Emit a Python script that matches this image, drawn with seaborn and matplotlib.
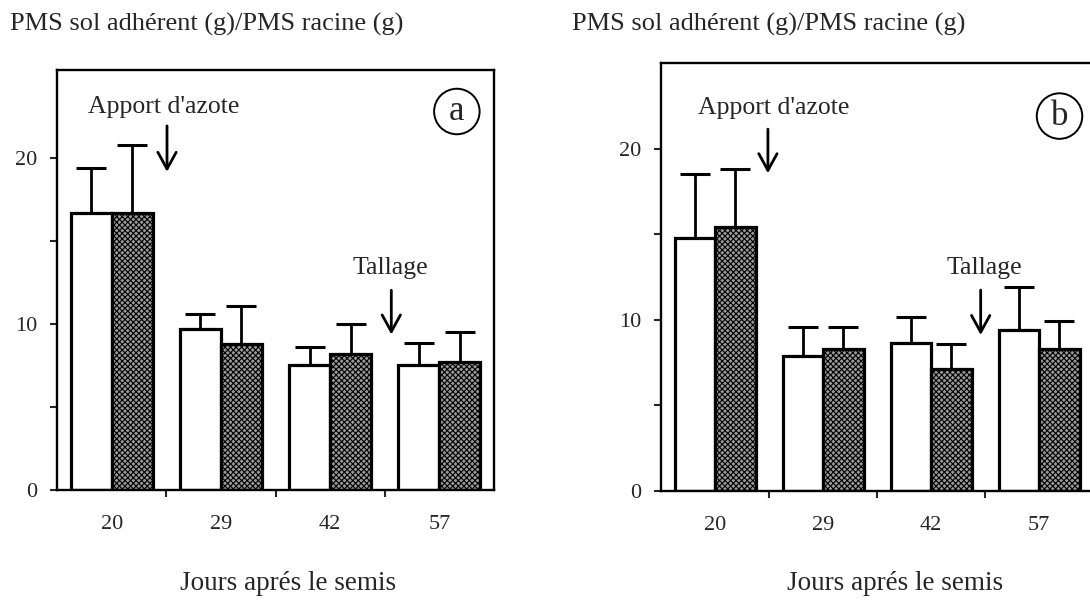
import numpy as np
import pandas as pd
import matplotlib
matplotlib.use("Agg")
import matplotlib.pyplot as plt
import seaborn as sns

# ===================== Daten =====================

jours = ["20", "29", "42", "57"]
traitements = ["témoin", "traité"]

moy_a_blanc = [16.7, 9.7, 7.5, 7.5]
moy_a_hach = [16.7, 8.8, 8.2, 7.7]
err_a_blanc = [2.7, 0.9, 1.1, 1.35]
err_a_hach = [4.1, 2.3, 1.8, 1.8]

moy_b_blanc = [14.8, 7.9, 8.65, 9.4]
moy_b_hach = [15.4, 8.3, 7.1, 8.3]
err_b_blanc = [3.7, 1.7, 1.5, 2.5]
err_b_hach = [3.4, 1.3, 1.5, 1.65]

ylabel = "PMS sol adhérent (g)/PMS racine (g)"
xlabel = "Jours aprés le semis"

# ===================== Style =====================

sns.set_theme(style="white")
plt.rcParams['font.family'] = ['Liberation Serif', 'DejaVu Serif']
plt.rcParams['hatch.linewidth'] = 0.8
plt.rcParams['hatch.color'] = 'black'

fleche = dict(arrowstyle='->,head_length=1.0,head_width=0.55', lw=2, color='black')


def panneau(ax, blanc, hach, eblanc, ehach, ymax, lettre, cercle, azote, tallage):
    df = pd.DataFrame({
        'jour': jours * 2,
        'val': blanc + hach,
        'trait': [traitements[0]] * 4 + [traitements[1]] * 4,
    })
    sns.barplot(data=df, x='jour', y='val', hue='trait', order=jours,
                hue_order=traitements, palette=['white', '#9a9a9a'],
                edgecolor='black', linewidth=2.3, errorbar=None,
                width=0.75, legend=False, ax=ax, saturation=1)
    errs = eblanc + ehach
    bars = [p for p in ax.patches][:8]
    for i, p in enumerate(bars):
        if i >= 4:
            p.set_hatch('xxxxxx')
        xc = p.get_x() + p.get_width() / 2
        ax.errorbar(xc, p.get_height(), yerr=[[0], [errs[i]]], color='black',
                    lw=2, capsize=11, capthick=2.2, zorder=1)
        p.set_zorder(2)

    ax.set_ylim(0, ymax)
    ax.set_xlim(-0.5, 3.5)
    ax.set_yticks([0, 10, 20])
    ax.set_yticks([5, 15], minor=True)
    ax.set_xticks(range(4))
    ax.set_xticklabels(jours)
    ax.set_xticks([0.5, 1.5, 2.5], minor=True)
    ax.tick_params(axis='x', which='major', length=0, pad=18, labelsize=16)
    ax.tick_params(axis='x', which='minor', length=5, width=1.5, direction='out', bottom=True)
    ax.tick_params(axis='y', which='both', length=5, width=1.5, direction='out', left=True,
                   labelsize=16, pad=9)
    for s in ax.spines.values():
        s.set_visible(True)
        s.set_color('black')
        s.set_linewidth(1.7)
    ax.set_xlabel("")
    ax.set_ylabel("")

    # annotations
    ax.annotate("", xy=(azote[2], azote[4]), xytext=(azote[2], azote[3]), arrowprops=fleche)
    ax.text(azote[0], azote[1], "Apport d'azote", ha='center', va='center', fontsize=18.5)
    ax.annotate("", xy=(tallage[2], tallage[4]), xytext=(tallage[2], tallage[3]), arrowprops=fleche)
    ax.text(tallage[0], tallage[1], "Tallage", ha='center', va='center', fontsize=18.5)
    ax.text(cercle[0], cercle[1], lettre, ha='center', va='center', fontsize=25,
            bbox=dict(boxstyle='circle,pad=0.18', fc='white', ec='black', lw=1.4))


fig = plt.figure(figsize=(10.9, 6.02), dpi=100)
ax_a = fig.add_axes([57 / 1090, 1 - 490 / 602, 437 / 1090, 420 / 602])
ax_b = fig.add_axes([661 / 1090, 1 - 491 / 602, 432 / 1090, 428 / 602])

panneau(ax_a, moy_a_blanc, moy_a_hach, err_a_blanc, err_a_hach, 25.3, "a",
        (3.16, 22.8), (0.48, 23.1, 0.507, 22.1, 19.0), (2.55, 13.4, 2.56, 12.2, 9.2))
panneau(ax_b, moy_b_blanc, moy_b_hach, err_b_blanc, err_b_hach, 25.0, "b",
        (3.19, 21.9), (0.54, 22.4, 0.49, 21.3, 18.4), (2.49, 13.0, 2.46, 11.9, 8.95))

fig.text(10 / 1090, 1 - 24 / 602, ylabel, ha='left', va='center', fontsize=19)
fig.text(572 / 1090, 1 - 24 / 602, ylabel, ha='left', va='center', fontsize=19)
fig.text(288 / 1090, 1 - 584 / 602, xlabel, ha='center', va='center', fontsize=19.5)
fig.text(895 / 1090, 1 - 584 / 602, xlabel, ha='center', va='center', fontsize=19.5)

plt.savefig("out.png", dpi=100)
